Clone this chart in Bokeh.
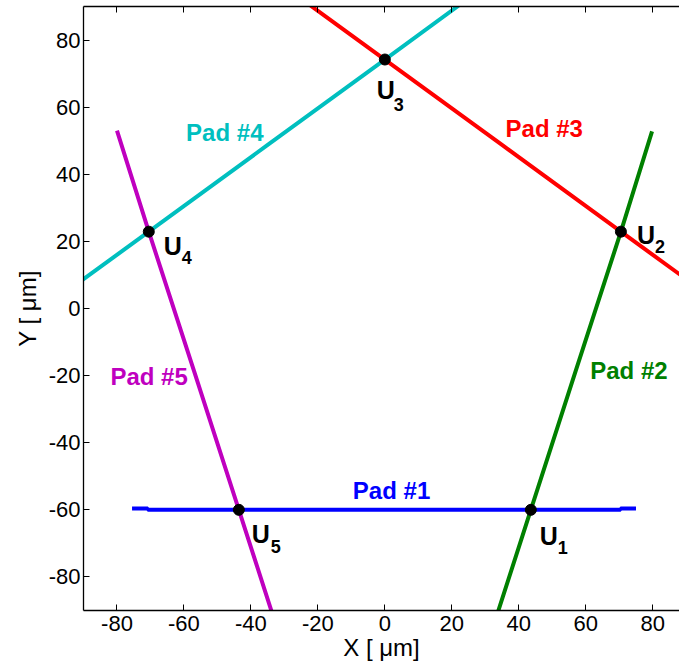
from bokeh.plotting import figure
from bokeh.models import LinearAxis, Range1d, ColumnDataSource, FixedTicker
from bokeh.core.properties import value
from bokeh.embed import file_html
from bokeh.resources import INLINE

# ---- data ----
pad1_x = [-75.5, -70.8, -70.8, 70.4, 70.4, 75.0]
pad1_y = [-59.6, -59.6, -60.0, -60.0, -59.6, -59.6]
pad2_x = [32.3, 43.6, 57.0, 70.5, 79.8]
pad2_y = [-95.0, -60.0, -18.6, 22.9, 52.8]
pad3_x = [-24.0, 0.0, 35.2, 70.5, 92.0]
pad3_y = [91.6, 74.2, 48.6, 22.9, 7.3]
pad4_x = [-92.0, -70.5, -35.2, 0.0, 22.5]
pad4_y = [7.3, 22.9, 48.6, 74.2, 90.6]
pad5_x = [-80.0, -70.5, -57.0, -43.6, -32.3]
pad5_y = [53.0, 22.9, -18.6, -60.0, -95.0]

u_x = [43.6, 70.5, 0.0, -70.5, -43.6]
u_y = [-60.0, 22.9, 74.2, 22.9, -60.0]
u_main = ["U", "U", "U", "U", "U"]
u_sub = ["1", "2", "3", "4", "5"]

pad_names = ["Pad #1", "Pad #2", "Pad #3", "Pad #4", "Pad #5"]
pad_label_x = [2.0, 72.9, 47.6, -47.8, -70.4]
pad_label_y = [-54.2, -18.4, 53.6, 52.4, -20.4]

ticks = [-80, -60, -40, -20, 0, 20, 40, 60, 80]
tick_labels = ["-80", "-60", "-40", "-20", "0", "20", "40", "60", "80"]

# ---- styles ----
pad_colors = ["#0000FF", "#008000", "#FF0000", "#00BFBF", "#BF00BF"]
u_dx = [9, 16, -8, 15, 13]
u_dy = [26, 3, 30, 14, 24]
s_dx = [27, 34, 9, 33, 32]
s_dy = [38, 15, 45, 26, 37]

FONT = "Liberation Sans"

p = figure(width=679, height=670, output_backend="svg", toolbar_location=None,
           x_range=Range1d(-90, 88.0), y_range=Range1d(-90, 90),
           min_border_left=83, min_border_right=0, min_border_top=6,
           min_border_bottom=60, x_axis_location="below")
p.outline_line_color = None
p.xgrid.visible = False
p.ygrid.visible = False
p.background_fill_color = "white"
p.border_fill_color = "white"

for ax in (p.xaxis[0], p.yaxis[0]):
    ax.ticker = FixedTicker(ticks=ticks)
    ax.major_label_overrides = dict(zip(ticks, tick_labels))
    ax.minor_tick_line_color = None
    ax.major_tick_in = 6
    ax.major_tick_out = 0
    ax.axis_line_color = "black"
    ax.axis_line_width = 1.3
    ax.major_tick_line_color = "black"
    ax.major_label_text_font = FONT
    ax.major_label_text_font_size = "22px"
    ax.major_label_text_color = "black"
    ax.axis_label_text_font = FONT
    ax.axis_label_text_font_size = "24px"
    ax.axis_label_text_font_style = "normal"
    ax.axis_label_text_color = "black"

p.xaxis[0].axis_label = "X [ μm]"
p.yaxis[0].axis_label = "Y [ μm]"
p.xaxis[0].major_label_standoff = 5
p.xaxis[0].axis_label_standoff = 0
p.yaxis[0].major_label_standoff = 3
p.yaxis[0].axis_label_standoff = 5

top = LinearAxis(ticker=FixedTicker(ticks=ticks), major_tick_in=6, major_tick_out=0,
                 minor_tick_line_color=None, major_label_text_font_size="0px",
                 major_label_standoff=0, axis_line_width=1.3)
top.major_label_overrides = {t: "" for t in ticks}
p.add_layout(top, "above")

pads = [(pad1_x, pad1_y), (pad2_x, pad2_y), (pad3_x, pad3_y), (pad4_x, pad4_y), (pad5_x, pad5_y)]
for (xs, ys), c in zip(pads, pad_colors):
    p.line(xs, ys, line_color=c, line_width=4)

p.scatter(u_x, u_y, size=11, color="black")

usrc = ColumnDataSource(dict(x=u_x, y=u_y, t=u_main, s=u_sub, dx=u_dx, dy=u_dy, sdx=s_dx, sdy=s_dy))
p.text(x="x", y="y", text="t", x_offset="dx", y_offset="dy", source=usrc,
       text_font=value(FONT), text_font_style="bold", text_font_size="25px",
       text_align="left", text_baseline="alphabetic", text_color="black")
p.text(x="x", y="y", text="s", x_offset="sdx", y_offset="sdy", source=usrc,
       text_font=value(FONT), text_font_style="bold", text_font_size="18px",
       text_align="left", text_baseline="alphabetic", text_color="black")

psrc = ColumnDataSource(dict(x=pad_label_x, y=pad_label_y, t=pad_names, c=pad_colors))
p.text(x="x", y="y", text="t", text_color="c", source=psrc,
       text_font=value(FONT), text_font_style="bold", text_font_size="24px",
       text_align="center", text_baseline="middle")

open("out.html", "w").write(file_html(p, INLINE))
